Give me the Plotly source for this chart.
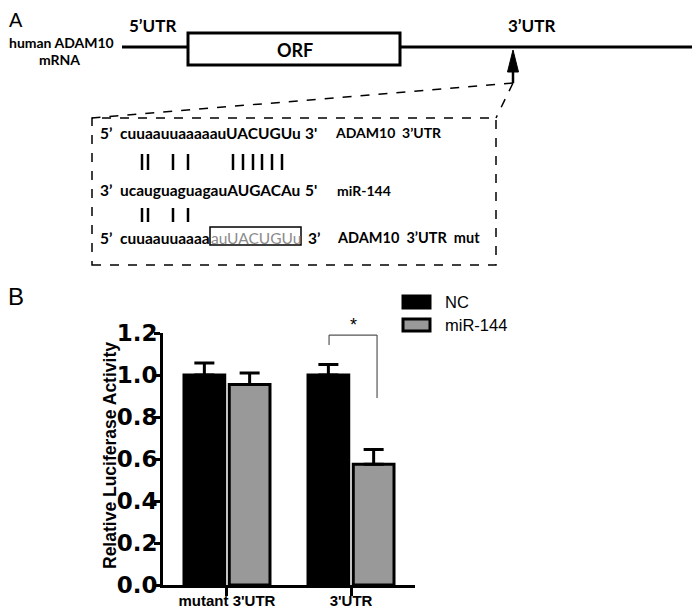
import plotly.graph_objects as go

# the page body keeps its default 8px margin, so the figure is drawn
# 8px smaller and every reference pixel is shifted by that much
OFF = 8
W, H = 700 - OFF, 610 - OFF


def px(x):
    return (x - OFF) / W


def py(y):
    return 1 - (y - OFF) / H


# panel B data
categories = ["mutant 3'UTR", "3'UTR"]
nc_mean = [1.0, 1.0]
nc_err = [0.057, 0.05]
mir_mean = [0.955, 0.575]
mir_err = [0.055, 0.07]

GRAY = '#999999'
SEQ_FONT = dict(family='Lato', size=15.5, color='black', weight='bold')

fig = go.Figure()
fig.add_trace(go.Bar(
    name='NC', x=categories, y=nc_mean,
    marker=dict(color='black', line=dict(color='black', width=3)),
    error_y=dict(type='data', array=nc_err, arrayminus=[0, 0], symmetric=False,
                 color='black', thickness=3, width=10),
))
fig.add_trace(go.Bar(
    name='miR-144', x=categories, y=mir_mean,
    marker=dict(color=GRAY, line=dict(color='black', width=3)),
    error_y=dict(type='data', array=mir_err, arrayminus=[0, 0], symmetric=False,
                 color='black', thickness=3, width=10),
))

shapes = []
annotations = []


def text(x, y, s, size=15.5, anchor='left', font=None, **kw):
    f = dict(SEQ_FONT) if font is None else dict(font)
    f['size'] = size
    annotations.append(dict(x=px(x), y=py(y), xref='paper', yref='paper', text=s,
                            showarrow=False, xanchor=anchor, yanchor='middle',
                            borderpad=0, borderwidth=0, font=f, **kw))


def pline(x0, y0, x1, y1, width=3, color='black', dash=None):
    shapes.append(dict(type='line', xref='paper', yref='paper',
                       x0=px(x0), y0=py(y0), x1=px(x1), y1=py(y1),
                       line=dict(color=color, width=width, dash=dash)))


# ---- panel A ----
text(16, 20, 'A', size=20, anchor='center', font=dict(family='Liberation Sans', color='black'))
text(61, 43, 'human ADAM10', size=14, anchor='center')
text(59, 59, 'mRNA', size=14, anchor='center')

pline(122, 47, 698, 47, width=3)
shapes.append(dict(type='rect', xref='paper', yref='paper', x0=px(188), x1=px(400),
                   y0=py(65), y1=py(33), fillcolor='white', line=dict(color='black', width=3)))
text(295, 50, 'ORF', size=18, anchor='center')
text(152, 26, '5’UTR', size=17, anchor='center')
text(531, 25, '3’UTR', size=17, anchor='center')

# arrow to site
pline(513, 83, 513, 66, width=2.5)
shapes.append(dict(type='path', xref='paper', yref='paper',
                   path=f'M {px(513)},{py(50)} L {px(507.5)},{py(72)} L {px(518.5)},{py(72)} Z',
                   fillcolor='black', line=dict(color='black', width=1)))
pline(513, 83, 92, 118, width=1.5, dash='dash')
pline(513, 83, 496, 118, width=1.5, dash='dash')
shapes.append(dict(type='rect', xref='paper', yref='paper', x0=px(92), x1=px(496),
                   y0=py(265), y1=py(118), line=dict(color='black', width=1.5, dash='dash')))

# sequences
text(100, 133, '5’')
text(120, 133, 'cuuaauuaaaaauUACUGUu')
text(305, 133, "3'")
text(335, 133, 'ADAM10  3’UTR', size=14)

text(100, 190, '3’')
text(120, 190, 'ucauguaguagauAUGACAu')
text(305, 190, "5'")
text(337, 190, 'miR-144', size=14)

text(100, 238, '5’')
text(120, 238, 'cuuaauuaaaa')
shapes.append(dict(type='rect', xref='paper', yref='paper', x0=px(210), x1=px(301),
                   y0=py(245), y1=py(227), line=dict(color='black', width=1.5)))
text(211, 238, 'auUACUGUu', font=dict(family='Lato', color='#8c8c8c'))
text(308, 238, '3’')
text(337, 238, 'ADAM10  3’UTR  mut', size=14.5)

# base pairing ticks
for x in [142, 148, 173, 188, 233, 243, 253, 262, 272, 282]:
    pline(x, 154, x, 170, width=2.5)
for x in [142, 148, 173, 188]:
    pline(x, 208, x, 222, width=2.5)

# ---- panel B ----
text(16, 296, 'B', size=24, anchor='center', font=dict(family='Liberation Sans', color='black'))
annotations.append(dict(x=px(110), y=py(456), xref='paper', yref='paper',
                        text='Relative Luciferase Activity', textangle=-90, showarrow=False,
                        xanchor='center', yanchor='middle',
                        font=dict(family='Liberation Sans', size=17.5, color='black', weight='bold')))

# legend
shapes.append(dict(type='rect', xref='paper', yref='paper', x0=px(403), x1=px(430),
                   y0=py(308), y1=py(296), fillcolor='black', line=dict(color='black', width=3)))
shapes.append(dict(type='rect', xref='paper', yref='paper', x0=px(403), x1=px(430),
                   y0=py(331), y1=py(319), fillcolor=GRAY, line=dict(color='black', width=3)))
leg_font = dict(family='Liberation Sans', color='black')
text(445, 302, 'NC', size=16.5, font=leg_font)
text(445, 325, 'miR-144', size=16.5, font=leg_font)

# significance bracket
for x0, y0, x1, y1 in [(0.823, 1.143, 0.823, 1.19), (0.823, 1.19, 1.21, 1.19), (1.21, 1.19, 1.21, 0.89)]:
    shapes.append(dict(type='line', xref='x', yref='y', x0=x0, y0=y0, x1=x1, y1=y1,
                       line=dict(color='#555555', width=1.2)))
text(353, 325, '*', size=18, anchor='center', font=dict(family='Liberation Sans', color='black'))

fig.update_layout(
    width=W, height=H,
    margin=dict(l=0, r=0, t=0, b=0, autoexpand=False),
    paper_bgcolor='white', plot_bgcolor='white',
    barmode='group', bargap=0.27, bargroupgap=0.1,
    showlegend=False,
    font=dict(family='Liberation Sans, Arial', color='black'),
    shapes=shapes, annotations=annotations,
)
fig.update_xaxes(
    domain=[px(163), px(415)], range=[-0.516, 1.516],
    showline=True, linewidth=3, linecolor='black',
    ticks='outside', ticklen=8, tickwidth=3, tickcolor='black',
    tickfont=dict(size=15, weight='bold', color='black'),
    ticklabelstandoff=-8,
    showgrid=False, zeroline=False,
)
fig.update_yaxes(
    domain=[py(585), py(333)], range=[0, 1.2],
    tickvals=[0, 0.2, 0.4, 0.6, 0.8, 1.0, 1.2], tickformat='.1f',
    showline=True, linewidth=3, linecolor='black',
    ticks='outside', ticklen=6, tickwidth=3, tickcolor='black',
    tickfont=dict(family='DejaVu Sans', size=23, weight='bold', color='black'),
    ticklabelstandoff=-8,
    showgrid=False, zeroline=False,
)

fig.write_html("out.html")
